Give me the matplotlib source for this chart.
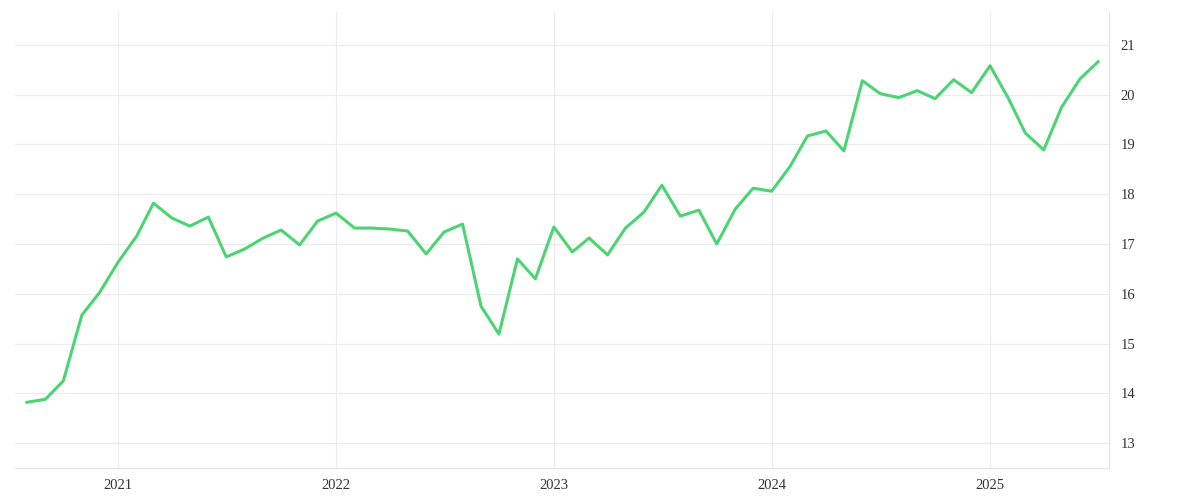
import matplotlib
matplotlib.use("Agg")
import matplotlib.pyplot as plt
import pandas as pd

dates = pd.date_range("2020-08-01", periods=60, freq="MS")
values = [13.82, 13.88, 14.25, 15.57, 16.03, 16.64, 17.16, 17.82, 17.52, 17.36, 17.54, 16.74,
          16.90, 17.12, 17.28, 16.98, 17.46, 17.62, 17.32, 17.32, 17.30, 17.26, 16.80, 17.24,
          17.40, 15.75, 15.19, 16.70, 16.30, 17.34, 16.84, 17.12, 16.78, 17.32, 17.64, 18.18,
          17.56, 17.68, 17.00, 17.70, 18.12, 18.06, 18.56, 19.17, 19.27, 18.87, 20.28, 20.02,
          19.94, 20.08, 19.92, 20.30, 20.04, 20.58, 19.92, 19.23, 18.89, 19.75, 20.32, 20.66]
yticks = [13, 14, 15, 16, 17, 18, 19, 20, 21]
xtick_years = [2021, 2022, 2023, 2024, 2025]

plt.rcParams['font.family'] = ['Liberation Serif', 'DejaVu Serif']
fig = plt.figure(figsize=(12, 5), dpi=100)
ax = fig.add_axes([0.0125, 0.064, 0.912, 0.912])
ax.plot(dates, values, color="#4cd474", lw=2.2)
ax.yaxis.tick_right()
ax.set_yticks(yticks)
ax.set_ylim(12.5, 21.66)
ax.set_xticks([pd.Timestamp(f"{y}-01-01") for y in xtick_years])
ax.set_xticklabels([str(y) for y in xtick_years])
ax.set_xlim(pd.Timestamp("2020-07-12"), pd.Timestamp("2025-07-20"))
ax.grid(True, color="#ececec", lw=0.8)
for s in ["top", "left"]:
    ax.spines[s].set_visible(False)
ax.spines["right"].set_color("#e6e6e6")
ax.spines["bottom"].set_color("#e6e6e6")
ax.tick_params(colors="#333333", labelsize=10.5, length=0, pad=8)
fig.savefig("out.png")
